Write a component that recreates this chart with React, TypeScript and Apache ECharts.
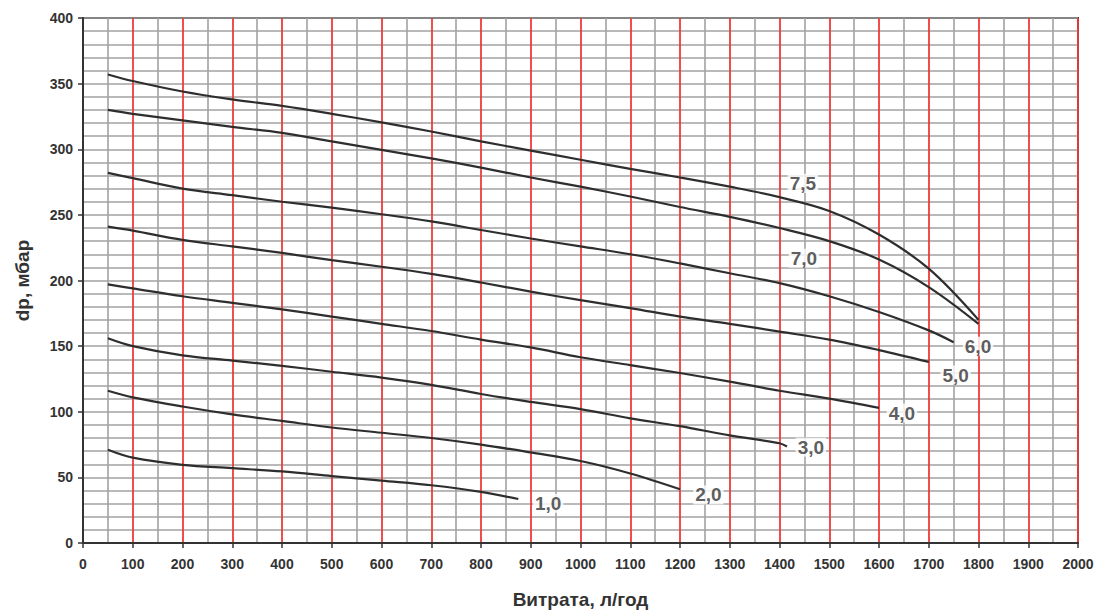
import React, { useEffect, useRef } from "react";
import * as echarts from "echarts";

const flowX = [50, 100, 200, 300, 400, 500, 600, 700, 800, 900, 1000, 1100, 1200, 1300, 1400, 1500, 1600, 1700, 1800];

const dp75 = [357, 352, 344, 338, 333, 327, 320.5, 313.5, 306, 299, 292, 285, 278.5, 271.5, 263.5, 253, 235, 209, 170];
const dp70 = [330, 327, 322, 317, 312.5, 306, 299.5, 293, 286, 278.5, 271.5, 264, 256, 248.5, 240, 230, 216, 195, 167];
const dp60 = [282, 278, 270, 265, 260, 255.5, 250.5, 245, 238.5, 232, 226, 220, 213, 205.5, 198, 188, 176, 162];
const dp60Tail = [[1750, 153]];
const dp50 = [241, 238, 231, 226, 221, 215.5, 210.5, 205, 198.5, 191.5, 185, 179, 172.5, 167, 161, 155, 147, 138];
const dp40 = [197, 194, 188, 183, 178, 172.5, 167, 161.5, 155, 149, 141.5, 135.5, 129.5, 123, 116, 110, 103];
const dp30 = [156, 150, 143, 139, 135, 130.5, 126, 120.5, 113.5, 107.5, 102, 95, 89, 82, 76];
const dp30Tail = [[1415, 73.5]];
const dp20 = [116, 111, 104, 98, 93, 88, 84, 80, 75, 69, 62.5, 53, 41];
const dp10 = [71, 65, 59.5, 57, 54.5, 51, 47.5, 44, 39];
const dp10Tail = [[875, 33.5]];

const curveNames = ["7,5", "7,0", "6,0", "5,0", "4,0", "3,0", "2,0", "1,0"];
const labelX = [1447, 1449, 1799, 1754, 1646, 1463, 1257, 935];
const labelY = [274, 217, 150, 128, 99, 73, 36.6, 30.2];

const FONT = "'Liberation Sans', Arial, Helvetica, sans-serif";
const TXT = "#333";

function zip(vals: number[], tail: number[][] = []) {
  const pts: number[][] = vals.map((v, i) => [flowX[i], v]);
  return pts.concat(tail);
}

export default function App() {
  const ref = useRef<HTMLDivElement>(null);
  useEffect(() => {
    if (!ref.current) return;
    const chart = echarts.init(ref.current, null, { renderer: "svg" });
    const curves = [
      zip(dp75),
      zip(dp70),
      zip(dp60, dp60Tail),
      zip(dp50),
      zip(dp40),
      zip(dp30, dp30Tail),
      zip(dp20),
      zip(dp10, dp10Tail),
    ];
    const lineSeries = curves.map((d, i) => ({
      type: "line",
      name: curveNames[i],
      data: d,
      smooth: 0.35,
      showSymbol: false,
      symbol: "none",
      lineStyle: { color: "#2e2e2e", width: 2.2 },
      z: 5,
    }));
    const axisLabel = {
      fontFamily: FONT,
      fontSize: 14,
      fontWeight: "bold",
      color: TXT,
      formatter: (v: number) => String(v),
    };
    const option: any = {
      animation: false,
      grid: {
        left: 83,
        right: 24,
        top: 18,
        bottom: 71,
        outerBoundsMode: "none",
        containLabel: false,
        show: true,
        borderColor: "#333",
        borderWidth: 2,
        backgroundColor: "#fff",
      },
      xAxis: {
        type: "value",
        min: 0,
        max: 2000,
        interval: 100,
        name: "Витрата, л/год",
        nameLocation: "middle",
        nameGap: 47,
        nameTextStyle: { fontFamily: FONT, fontSize: 19, fontWeight: "bold", color: TXT },
        axisLine: { show: true, lineStyle: { color: "#333", width: 2 } },
        axisTick: { show: true, length: 5, lineStyle: { color: "#333", width: 1.5 } },
        axisLabel: { ...axisLabel, margin: 14 },
        splitLine: { show: true, lineStyle: { color: "#ef3b3b", width: 1.8 } },
        minorTick: { show: false, splitNumber: 2 },
        minorSplitLine: { show: true, lineStyle: { color: "#a2a2a2", width: 1.6 } },
      },
      yAxis: {
        type: "value",
        min: 0,
        max: 400,
        interval: 50,
        name: "dp, мбар",
        nameLocation: "middle",
        nameGap: 51,
        nameTextStyle: { fontFamily: FONT, fontSize: 19, fontWeight: "bold", color: TXT },
        axisLine: { show: true, lineStyle: { color: "#333", width: 2 } },
        axisTick: { show: true, length: 5, lineStyle: { color: "#333", width: 1.5 } },
        axisLabel: { ...axisLabel, margin: 10 },
        splitLine: { show: true, lineStyle: { color: "#a2a2a2", width: 1.6 } },
        minorTick: { show: false, splitNumber: 5 },
        minorSplitLine: { show: true, lineStyle: { color: "#a2a2a2", width: 1.6 } },
      },
      series: [
        ...lineSeries,
        {
          type: "scatter",
          symbolSize: 0,
          z: 10,
          data: labelX.map((x, i) => ({ name: curveNames[i], value: [x, labelY[i]] })),
          label: {
            show: true,
            position: "inside",
            formatter: (p: any) => p.name,
            fontFamily: FONT,
            fontSize: 19,
            fontWeight: "bold",
            color: TXT,
            backgroundColor: "#fff",
            padding: [0, 2],
          },
        },
      ],
    };
    chart.setOption(option);
    return () => chart.dispose();
  }, []);
  return (
    <div
      ref={ref}
      style={{ position: "absolute", left: 0, top: 0, width: 1102, height: 614 }}
    />
  );
}
